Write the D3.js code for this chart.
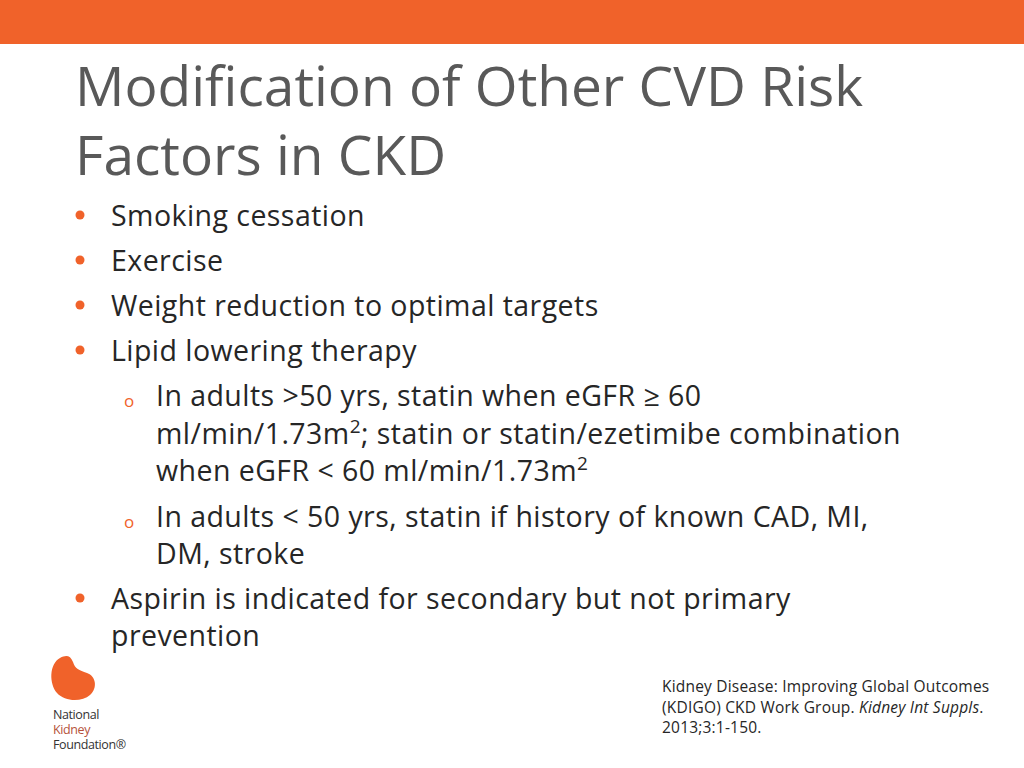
<!DOCTYPE html>
<html><head><meta charset="utf-8">
<script src="https://cdn.jsdelivr.net/npm/d3@7"></script>
<style>body{margin:0;background:#fff}</style>
</head><body>
<script>
// slide content
const titleLines = ["Modification of Other CVD Risk", "Factors in CKD"]
// [level, text, baseline y] ; |..| marks superscript
const bullets = [
  [1, "Smoking cessation", 226],
  [1, "Exercise", 271],
  [1, "Weight reduction to optimal targets", 316],
  [1, "Lipid lowering therapy", 361],
  [2, "In adults >50 yrs, statin when eGFR \u2265 60", 406],
  [0, "ml/min/1.73m|2|; statin or statin/ezetimibe combination", 444],
  [0, "when eGFR < 60 ml/min/1.73m|2|", 481],
  [2, "In adults < 50 yrs, statin if history of known CAD, MI,", 527],
  [0, "DM, stroke", 564],
  [1, "Aspirin is indicated for secondary but not primary", 609],
  [0, "prevention", 646]
]
const citation = ["Kidney Disease: Improving Global Outcomes", "(KDIGO) CKD Work Group. |Kidney Int Suppls|.", "2013;3:1-150."]
const logoWords = [["National", "#333"], ["Kidney", "#b5523b"], ["Foundation\u00ae", "#333"]]

const orange = "#f0622a"
const svg = d3.select("body").append("svg").attr("width", 1024).attr("height", 768)
  .style("font-family", "'Open Sans', 'Noto Sans', sans-serif")

svg.append("rect").attr("width", 1024).attr("height", 44).attr("fill", orange)

svg.selectAll("text.title").data(titleLines).join("text").attr("class", "title")
  .attr("x", 75).attr("y", (d, i) => 106 + i * 69)
  .attr("font-size", 55).attr("fill", "#595959").attr("textLength", null).text(d => d)

bullets.forEach(b => {
  const [lvl, txt, y] = b
  const x = (lvl == 1 || (lvl == 0 && y > 600)) ? 111 : 156
  if (lvl == 1) svg.append("circle").attr("cx", 80).attr("cy", y - 11).attr("r", 4.5).attr("fill", orange)
  if (lvl == 2) svg.append("text").attr("x", 124).attr("y", y + 1).attr("font-size", 17).attr("fill", orange).text("o")
  const t = svg.append("text").attr("x", x).attr("y", y).attr("font-size", 28.5)
    .attr("letter-spacing", 0.45).attr("fill", "#262626")
  txt.split("|").forEach((p, i) => {
    const s = t.append("tspan").text(p)
    if (i % 2 == 1) s.attr("font-size", 19).attr("dy", -11)
    else if (i > 0) s.attr("dy", 11)
  })
})

citation.forEach((c, i) => {
  const t = svg.append("text").attr("x", 662).attr("y", 692 + i * 20.5).attr("font-size", 15.5)
    .attr("letter-spacing", 0.2).attr("fill", "#262626")
  c.split("|").forEach((p, j) => t.append("tspan").text(p).attr("font-style", j % 2 ? "italic" : null))
})

// logo
svg.append("path")
  .attr("d", "M60,658 C49,664 49,684 57,693 C65,702 82,702 90,695 C98,688 96,676 87,673 C79,670 75,669 73,662 C70,655 66,655 60,658 Z")
  .attr("fill", orange)
logoWords.forEach((w, i) => svg.append("text").attr("x", 53).attr("y", 719 + i * 15)
  .attr("font-size", 12.5).attr("fill", w[1]).attr("letter-spacing", -0.4).text(w[0]))
</script>
</body></html>
